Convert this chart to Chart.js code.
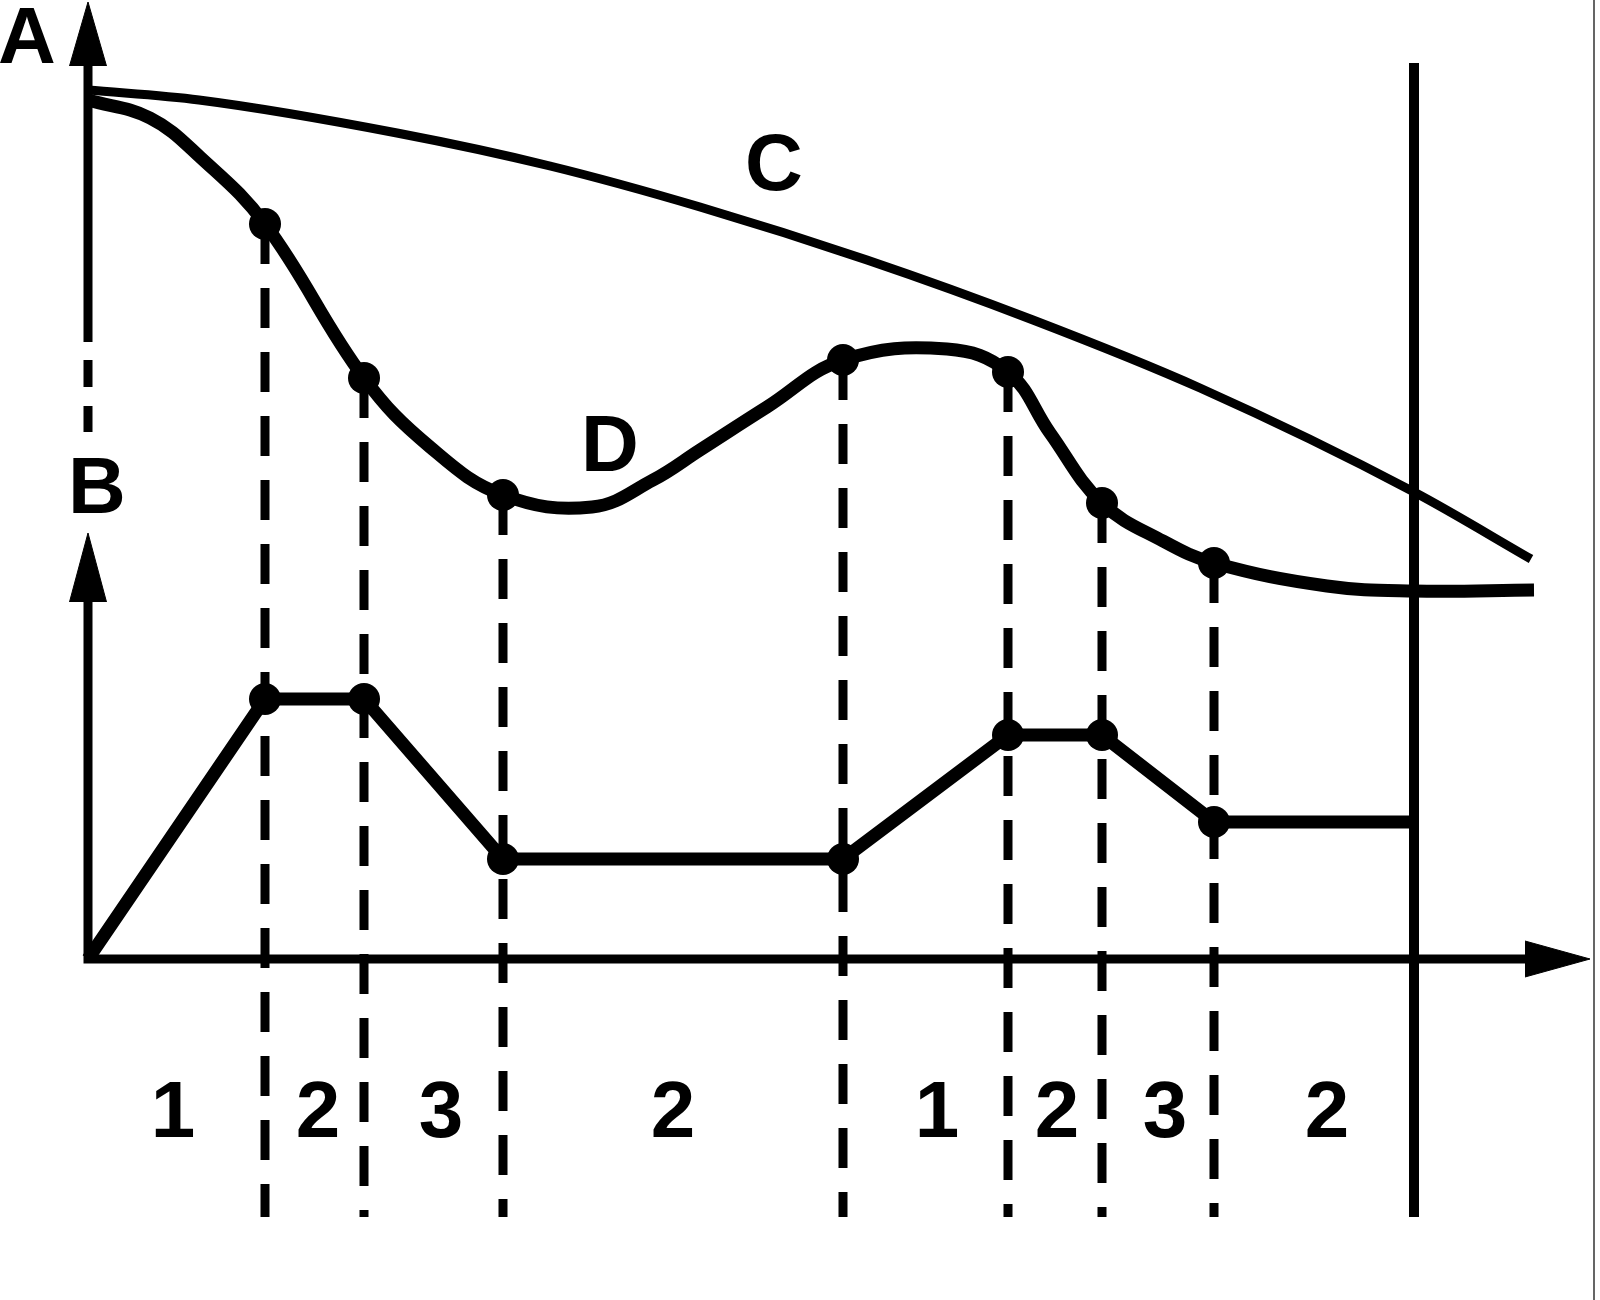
<!DOCTYPE html>
<html><head><meta charset="utf-8">
<script src="https://cdn.jsdelivr.net/npm/chart.js@4.4.1/dist/chart.umd.min.js"></script>
<style>html,body{margin:0;padding:0;background:#fff;}canvas{display:block;}</style>
</head><body>
<canvas id="c" width="1600" height="1300"></canvas>
<script>
// ---------- DATA (time units / value units) ----------
const phaseBounds    = [0, 1.77, 2.76, 4.15, 7.55, 9.20, 10.14, 11.26, 13.26];
const phaseNames     = ['1', '2', '3', '2', '1', '2', '3', '2'];
const phaseNameTimes = [0.85, 2.30, 3.53, 5.85, 8.49, 9.69, 10.77, 12.39];

const curveCTime  = [0, 1.11, 3.09, 4.62, 6.12, 7.79, 9.45, 11.12, 13.26, 14.43];
const curveCValue = [8.69, 8.59, 8.26, 7.93, 7.52, 6.99, 6.39, 5.71, 4.67, 4.00];

const curveDTime  = [0, 0.62, 1.12, 1.77, 2.76, 3.42, 4.15, 5.04, 5.65, 6.12, 6.79, 7.55,
                     8.59, 9.20, 9.62, 10.14, 10.75, 11.26, 12.39, 13.26, 14.46];
const curveDValue = [8.59, 8.41, 8.02, 7.35, 5.81, 5.12, 4.64, 4.52, 4.79, 5.09, 5.52, 5.99,
                     6.10, 5.87, 5.26, 4.56, 4.18, 3.96, 3.73, 3.68, 3.69];

const curveBTime  = [0, 1.77, 2.76, 4.15, 7.55, 9.20, 10.14, 11.26, 13.26];
const curveBValue = [0, 2.60, 2.60, 1.00, 1.00, 2.24, 2.24, 1.37, 1.37];

const axisNames  = ['A', 'B'];
const curveNames = ['C', 'D'];

// ---------- VIEW / GEOMETRY ----------
const view = { xMin: -0.88, xMax: 15.12, yMin: -3.41, yMax: 9.59 };
const geo = {
  aTop: 8.93, aTip: 9.57, aSolidEnd: 6.17, aDashStart: 5.99, aDashEnd: 5.27,
  bTop: 3.57, bTip: 4.26, arrowHalf: 0.185,
  xEnd: 14.37, xTip: 15.02, xArrowHalf: 0.18,
  guideBottom: -2.58, endLineTop: 8.96, frameX: 15.06
};
const textPos = {
  A: { t: -0.61, v: 8.96 }, B: { t: 0.09, v: 4.46 },
  C: { t: 6.86, v: 7.69 },  D: { t: 5.22, v: 4.88 },
  phaseBaseline: -1.78
};

const zip = (ts, vs) => ts.map((t, i) => ({ x: t, y: vs[i] }));
const innerBounds = phaseBounds.slice(1, -1);
const endT = phaseBounds[phaseBounds.length - 1];
const BLACK = '#000';

function lineDs(data, width, extra) {
  return Object.assign({
    data, borderColor: BLACK, backgroundColor: BLACK, borderWidth: width,
    pointRadius: 0, pointHoverRadius: 0, tension: 0, fill: false
  }, extra || {});
}
function markerRadius(ctx) {
  return innerBounds.includes(ctx.raw.x) ? 16 : 0;
}

const datasets = [];
// curve C (thin)
datasets.push(lineDs(zip(curveCTime, curveCValue), 9, { cubicInterpolationMode: 'monotone' }));
// curve D (thick, with markers)
datasets.push(lineDs(zip(curveDTime, curveDValue), 13, {
  tension: 0.4, pointRadius: markerRadius, pointHoverRadius: markerRadius,
  pointBackgroundColor: BLACK, pointBorderWidth: 0
}));
// curve B (polyline with markers)
datasets.push(lineDs(zip(curveBTime, curveBValue), 13, {
  pointRadius: markerRadius, pointHoverRadius: markerRadius,
  pointBackgroundColor: BLACK, pointBorderWidth: 0
}));
// dashed phase boundary guides (from D marker down)
innerBounds.forEach(t => {
  const dv = curveDValue[curveDTime.indexOf(t)];
  datasets.push(lineDs([{ x: t, y: dv }, { x: t, y: geo.guideBottom }], 9, { borderDash: [40, 24] }));
});
// end line
datasets.push(lineDs([{ x: endT, y: geo.endLineTop }, { x: endT, y: geo.guideBottom }], 10));
// axes
datasets.push(lineDs([{ x: 0, y: geo.aTop }, { x: 0, y: geo.aSolidEnd }], 9));
datasets.push(lineDs([{ x: 0, y: geo.aDashStart }, { x: 0, y: geo.aDashEnd }], 9, { borderDash: [27, 19] }));
datasets.push(lineDs([{ x: 0, y: geo.bTop }, { x: 0, y: 0 }, { x: geo.xEnd, y: 0 }], 9));
// arrowheads
const tri = pts => lineDs(pts, 1, { fill: 'shape' });
datasets.push(tri([{ x: -geo.arrowHalf, y: geo.aTop }, { x: 0, y: geo.aTip }, { x: geo.arrowHalf, y: geo.aTop }]));
datasets.push(tri([{ x: -geo.arrowHalf, y: geo.bTop }, { x: 0, y: geo.bTip }, { x: geo.arrowHalf, y: geo.bTop }]));
datasets.push(tri([{ x: geo.xEnd, y: geo.xArrowHalf }, { x: geo.xTip, y: 0 }, { x: geo.xEnd, y: -geo.xArrowHalf }]));
// thin frame edge at right
datasets.push(lineDs([{ x: geo.frameX, y: view.yMax }, { x: geo.frameX, y: view.yMin }], 1.5, { borderColor: '#333' }));

const textPlugin = {
  id: 'diagramText',
  afterDatasetsDraw(chart) {
    const { ctx, scales: { x, y } } = chart;
    ctx.save();
    ctx.fillStyle = BLACK;
    ctx.font = 'bold 80px "Liberation Sans", Arial, sans-serif';
    ctx.textAlign = 'center';
    ctx.textBaseline = 'alphabetic';
    axisNames.concat(curveNames).forEach(n => {
      const p = textPos[n];
      ctx.fillText(n, x.getPixelForValue(p.t), y.getPixelForValue(p.v));
    });
    phaseNames.forEach((n, i) => {
      ctx.fillText(n, x.getPixelForValue(phaseNameTimes[i]), y.getPixelForValue(textPos.phaseBaseline));
    });
    ctx.restore();
  }
};

new Chart(document.getElementById('c'), {
  type: 'line',
  data: { datasets },
  options: {
    responsive: false, animation: false, devicePixelRatio: 1, events: [],
    layout: { padding: 0 },
    plugins: { legend: { display: false }, tooltip: { enabled: false } },
    scales: {
      x: { type: 'linear', min: view.xMin, max: view.xMax, display: false },
      y: { type: 'linear', min: view.yMin, max: view.yMax, display: false }
    }
  },
  plugins: [textPlugin]
});
</script>
</body></html>
